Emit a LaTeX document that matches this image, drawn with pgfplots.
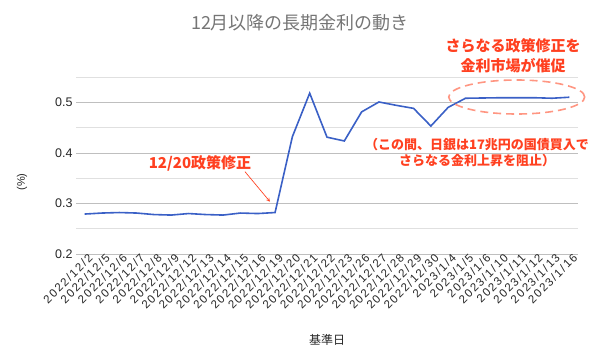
\documentclass[border=0pt]{standalone}
\usepackage{fontspec}
\setmainfont{Liberation Sans}
\newfontfamily\cjk{Noto Sans CJK JP}
\newfontfamily\tickfont[LetterSpace=14]{Liberation Sans}
\usepackage{pgfplots}
\pgfplotsset{compat=1.18}
\definecolor{linec}{RGB}{58,96,198}
\definecolor{redt}{RGB}{255,64,32}
\definecolor{ellc}{RGB}{255,150,130}
\definecolor{titlec}{RGB}{117,117,117}
\begin{document}
\begin{tikzpicture}[x=1pt,y=1pt]
\useasboundingbox (0,0) rectangle (593,360);
\begin{axis}[at={(76pt,106pt)}, anchor=south west, scale only axis,
  width=502pt, height=177pt,
  xmin=-0.5, xmax=28.5, ymin=0.2, ymax=0.55,
  axis line style={draw=none}, major tick length=0pt, minor tick length=0pt,
  ytick={0.2,0.3,0.4,0.5}, minor ytick={0.25,0.35,0.45,0.55},
  ymajorgrids, yminorgrids,
  major grid style={color=black!25, line width=0.7pt},
  minor grid style={color=black!12, line width=0.7pt},
  xtick={0,...,28},
  xticklabels={2022/12/2,2022/12/5,2022/12/6,2022/12/7,2022/12/8,2022/12/9,2022/12/12,2022/12/13,2022/12/14,2022/12/15,2022/12/16,2022/12/19,2022/12/20,2022/12/21,2022/12/22,2022/12/23,2022/12/26,2022/12/27,2022/12/28,2022/12/29,2022/12/30,2023/1/4,2023/1/5,2023/1/6,2023/1/10,2023/1/11,2023/1/12,2023/1/13,2023/1/16},
  xticklabel style={rotate=45, anchor=north east, font=\tickfont\fontsize{11.5}{12}\selectfont, text=black!85, inner sep=1pt, xshift=4pt},
  yticklabel style={font=\fontsize{12.5}{12}\selectfont, text=black!85},
  /pgf/number format/assume math mode=true,
]
\addplot[color=linec, line width=1.6pt, mark=none] coordinates {
(0,0.279) (1,0.281) (2,0.282) (3,0.281) (4,0.278) (5,0.277) (6,0.280) (7,0.278) (8,0.277) (9,0.281) (10,0.280) (11,0.282)
(12,0.432) (13,0.518) (14,0.431) (15,0.4235) (16,0.481) (17,0.5006) (18,0.494) (19,0.488) (20,0.453)
(21,0.490) (22,0.508) (23,0.5085) (24,0.509) (25,0.509) (26,0.509) (27,0.508) (28,0.510)
};
\end{axis}
\node[text=titlec, font=\cjk\fontsize{18}{20}\selectfont] at (300,337) {12月以降の長期金利の動き};
\node[text=redt, font=\cjk\bfseries\fontsize{15}{20}\selectfont, align=center] at (513,304) {さらなる政策修正を\\金利市場が催促};
\node[text=redt, font=\cjk\bfseries\fontsize{13}{16}\selectfont, align=center] at (477,207) {（この間、日銀は17兆円の国債買入で\\さらなる金利上昇を阻止）};
\node[text=redt, font=\cjk\bfseries\fontsize{15}{18}\selectfont] at (200,197) {12/20政策修正};
\draw[redt, line width=0.7pt, -stealth] (245,188.3) -- (270,158.3);
\draw[ellc, line width=1.6pt, dash pattern=on 8pt off 5pt] (516.7,263) ellipse [x radius=68, y radius=17];
\node[rotate=90, font=\fontsize{11}{12}\selectfont, text=black!85] at (22,178) {(\%)};
\node[font=\cjk\fontsize{12}{14}\selectfont, text=black!85] at (327,20) {基準日};
\end{tikzpicture}
\end{document}
